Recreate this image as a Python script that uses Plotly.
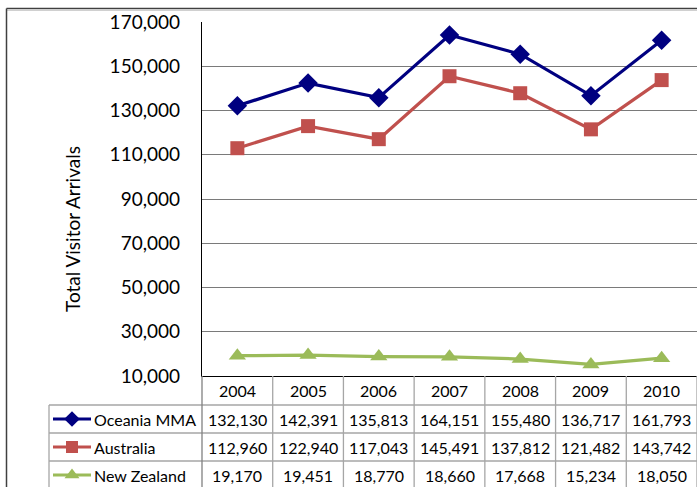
import plotly.graph_objects as go

years = [2004, 2005, 2006, 2007, 2008, 2009, 2010]
series_names = ["Oceania MMA", "Australia", "New Zealand"]
oceania = [132130, 142391, 135813, 164151, 155480, 136717, 161793]
australia = [112960, 122940, 117043, 145491, 137812, 121482, 143742]
new_zealand = [19170, 19451, 18770, 18660, 17668, 15234, 18050]
y_ticks = [10000, 30000, 50000, 70000, 90000, 110000, 130000, 150000, 170000]

colors = ["#000080", "#C0504D", "#9BBB59"]
symbols = ["diamond", "square", "triangle-up"]
msizes = [15, 14, 15]
legend_msizes = [12, 12, 13]
all_values = [oceania, australia, new_zealand]

W, H = 697, 487
PL, PR, PT, PB = 202, 697, 22, 376  # plot area in pixels
FONT = "Lato, 'Open Sans', sans-serif"

fig = go.Figure()

for name, vals, c, s, ms in zip(series_names, all_values, colors, symbols, msizes):
    fig.add_trace(go.Scatter(
        x=years, y=vals, name=name, mode="lines+markers",
        line=dict(color=c, width=3.2),
        marker=dict(symbol=s, size=ms, color=c),
        cliponaxis=False, showlegend=False, xaxis="x", yaxis="y"))

# pixel overlay axes for table / legend keys
row_tops = [405, 433, 461]
row_h = 28
for i, (c, s, ms) in enumerate(zip(colors, symbols, legend_msizes)):
    yc = row_tops[i] + row_h / 2
    fig.add_trace(go.Scatter(
        x=[53, 72, 91], y=[yc, yc, yc], mode="lines",
        line=dict(color=c, width=3.2), showlegend=False,
        hoverinfo="skip", xaxis="x2", yaxis="y2", cliponaxis=False))
    fig.add_trace(go.Scatter(
        x=[72], y=[yc], mode="markers",
        marker=dict(symbol=s, size=ms, color=c), showlegend=False,
        hoverinfo="skip", xaxis="x2", yaxis="y2", cliponaxis=False))

shapes = []
border = "#a6a6a6"
# outer frame
shapes.append(dict(type="line", xref="x2", yref="y2", x0=6.5, x1=W, y0=8.5, y1=8.5,
                   line=dict(color="#404040", width=1.5)))
shapes.append(dict(type="line", xref="x2", yref="y2", x0=6.5, x1=W, y0=10.5, y1=10.5,
                   line=dict(color="#d0d0d0", width=1)))
shapes.append(dict(type="line", xref="x2", yref="y2", x0=6.5, x1=6.5, y0=8.5, y1=H,
                   line=dict(color="#404040", width=1.5)))
# table horizontal lines
for yt in row_tops:
    shapes.append(dict(type="line", xref="x2", yref="y2", x0=49, x1=W, y0=yt, y1=yt,
                       line=dict(color=border, width=1.3)))
# legend column left border
shapes.append(dict(type="line", xref="x2", yref="y2", x0=49, x1=49, y0=405, y1=H,
                   line=dict(color=border, width=1.3)))
# column borders aligned to data scale
for yr in years[1:] + [years[-1] + 1]:
    shapes.append(dict(type="line", xref="x", yref="y2", x0=yr - 0.5, x1=yr - 0.5,
                       y0=PB, y1=H, line=dict(color=border, width=1.3)))
shapes.append(dict(type="line", xref="x2", yref="y2", x0=PL, x1=PL, y0=PB, y1=H,
                   line=dict(color="#808080", width=1.3)))

annotations = []
tfont = dict(family=FONT, size=16, color="#000000")
for yr in years:
    annotations.append(dict(x=yr, y=390.5, xref="x", yref="y2", text=str(yr),
                            showarrow=False, font=tfont, xanchor="center", yanchor="middle"))
for i, (name, vals) in enumerate(zip(series_names, all_values)):
    yc = row_tops[i] + row_h / 2
    annotations.append(dict(x=92, y=yc, xref="x2", yref="y2", text=name,
                            showarrow=False, font=tfont, xanchor="left", yanchor="middle"))
    for yr, v in zip(years, vals):
        annotations.append(dict(x=yr, y=yc, xref="x", yref="y2", text=f"{v:,}",
                                showarrow=False, font=tfont, xanchor="center", yanchor="middle"))
annotations.append(dict(x=72, y=229, xref="x2", yref="y2", text="Total Visitor Arrivals",
                        textangle=-90, showarrow=False,
                        font=dict(family=FONT, size=19, color="#000000"),
                        xanchor="center", yanchor="middle"))

fig.update_layout(
    width=W, height=H, margin=dict(l=0, r=0, t=0, b=0, pad=0, autoexpand=False),
    paper_bgcolor="white", plot_bgcolor="rgba(0,0,0,0)",
    font=dict(family=FONT, color="#000000"),
    xaxis=dict(domain=[PL / W, PR / W], range=[years[0] - 0.5, years[-1] + 0.5],
               showgrid=False, zeroline=False, showticklabels=False, ticks="",
               showline=True, linecolor="#000000", linewidth=1.3, anchor="y",
               fixedrange=True, automargin=False),
    yaxis=dict(domain=[(H - PB) / H, (H - PT) / H], range=[10000, 170000],
               tickvals=y_ticks, tickformat=",d",
               tickfont=dict(family=FONT, size=19, color="#000000"),
               ticks="outside", ticklen=17, tickcolor="rgba(0,0,0,0)",
               showgrid=True, gridcolor="#7a7a7a", gridwidth=1.3, zeroline=False,
               showline=True, linecolor="#000000", linewidth=1.3, anchor="x",
               fixedrange=True, automargin=False),
    xaxis2=dict(domain=[0, 1], range=[0, W], visible=False, anchor="y2",
                fixedrange=True, automargin=False),
    yaxis2=dict(domain=[0, 1], range=[H, 0], visible=False, anchor="x2",
                fixedrange=True, automargin=False),
    shapes=shapes, annotations=annotations,
)

fig.write_html(
    "out.html",
    config={"displayModeBar": False},
    post_script="document.body.style.margin='0';document.documentElement.style.overflow='hidden';document.body.style.overflow='hidden';",
)
